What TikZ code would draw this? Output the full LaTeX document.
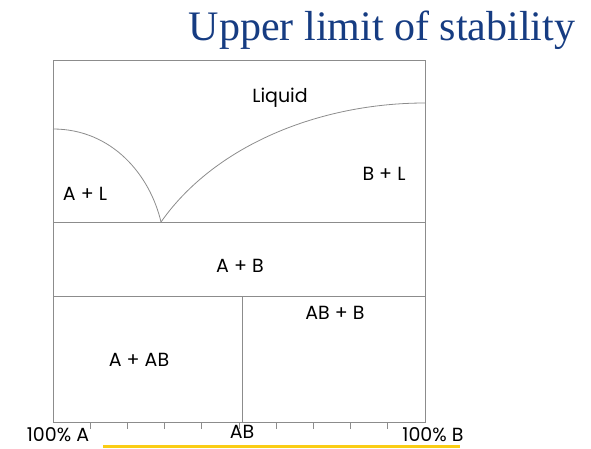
\documentclass[tikz,border=0pt]{standalone}
\usepackage{fontspec}
\setmainfont{Liberation Serif}
\newfontfamily\labelfont{Poppins}
\usepackage{tikz}
\usetikzlibrary{positioning}
\definecolor{titleblue}{RGB}{22,60,130}
\definecolor{linegray}{RGB}{140,140,140}
\definecolor{baryellow}{RGB}{250,205,20}
\tikzset{phase/.style={font=\labelfont\fontsize{19}{22}\selectfont, inner sep=0pt}}
\tikzset{rule/.style={color=linegray,line width=0.8pt}}

\begin{document}
\begin{tikzpicture}[x=1pt,y=-1pt]
\useasboundingbox (0,0) rectangle (591,448);

\coordinate (tl) at (53,60);
\coordinate (tr) at (425,60);
\coordinate (bl) at (53,422);
\coordinate (br) at (425,422);
\coordinate (meltA) at (53,129);
\coordinate (meltB) at (425,103);
\coordinate (eut) at (161,222);
\coordinate (eutL) at (53,222);
\coordinate (eutR) at (425,222);
\coordinate (cmpL) at (53,296);
\coordinate (cmpR) at (425,296);
\coordinate (cmpT) at (242,296);
\coordinate (cmpB) at (242,422);

\draw[rule] (tl) -- (tr) -- (br) -- (bl) -- cycle;
\draw[rule] (eutL) -- (eutR);
\draw[rule] (cmpL) -- (cmpR);
\draw[rule] (cmpT) -- (cmpB);

% liquidus
\draw[rule] (meltA) .. controls (112,129) and (150,175) .. (eut);
\draw[rule] (eut) .. controls (215,145) and (320,103) .. (meltB);

% ticks
\foreach \i in {1,...,9}
  \draw[rule] (53+37.2*\i,422) -- (53+37.2*\i,429);

\node (liq) at (280,98) [phase] {Liquid};
\node (al) at (85,194) [phase] {A + L};
\node (bl2) at (384,174) [phase] {B + L};
\node (ab) at (240,266) [phase] {A + B};
\node (abb) at (335,313) [phase] {AB + B};
\node (aab) at (139,360) [phase] {A + AB};
\node (pa) at (58,434.5) [phase] {100\% A};
\node (pab) at (242,432) [phase] {AB};
\node (pb) at (433,434.5) [phase] {100\% B};

\node (title) at (382,30) [color=titleblue, font=\fontsize{42}{46}\selectfont, inner sep=0pt] {Upper limit of stability};

\draw[color=baryellow,line width=3pt] (103,446.5) -- (460,446.5);

\end{tikzpicture}
\end{document}
